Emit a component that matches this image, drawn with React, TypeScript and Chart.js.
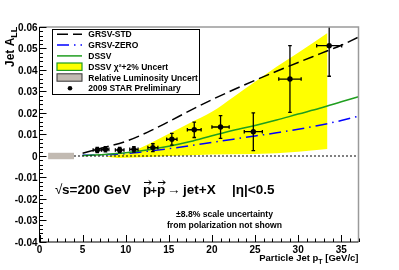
import React, { useEffect, useRef } from "react";
import { Chart, registerables } from "chart.js";

Chart.register(...registerables);

// ---- data ----
const jetPt = [6.7, 7.65, 9.3, 10.95, 13.15, 15.35, 17.95, 21.0, 24.8, 29.05, 33.6];
const jetALL = [0.0028, 0.0031, 0.0028, 0.0031, 0.0039, 0.0078, 0.0122, 0.0135, 0.0113, 0.0358, 0.0513];
const ptErr = [0.48, 0.4, 0.5, 0.48, 0.58, 0.6, 0.8, 1.0, 1.05, 1.3, 1.45];
const allErr = [0.0012, 0.0012, 0.0012, 0.0013, 0.0018, 0.0027, 0.0036, 0.0053, 0.0088, 0.0155, 0.0142];

const theoryPt = [5, 7.5, 10, 12.5, 15, 17.5, 20, 22.5, 25, 27.5, 30, 32.5, 35, 37];
const grsvStd = [0.0013, 0.004, 0.0068, 0.011, 0.016, 0.0212, 0.0262, 0.0308, 0.0352, 0.0394, 0.0435, 0.0475, 0.0515, 0.0553];
const grsvZero = [0.0003, 0.0006, 0.0011, 0.0022, 0.0034, 0.0048, 0.0063, 0.0078, 0.0093, 0.0108, 0.0124, 0.0143, 0.0165, 0.0185];
const dssv = [0.0002, 0.0007, 0.0015, 0.0028, 0.0045, 0.0067, 0.0094, 0.012, 0.0142, 0.0167, 0.0195, 0.0222, 0.0252, 0.0276];

const bandPt = [7.8, 9, 10, 11, 12.5, 15, 17.5, 20, 22.5, 25, 27.5, 30, 33.4];
const bandUpper = [-0.0002, 0.0006, 0.001, 0.0025, 0.0052, 0.0103, 0.0155, 0.0206, 0.0275, 0.0345, 0.0415, 0.048, 0.0572];
const bandLower = [-0.0004, -0.0009, -0.0008, -0.0007, -0.0005, 0.0, 0.0004, 0.0007, 0.0008, 0.0009, 0.0013, 0.002, 0.0033];

const lumiPt = [1, 4];
const lumiUncert = 0.0015;

const xTicks = [0, 5, 10, 15, 20, 25, 30, 35];
const xTickLabels = ["0", "5", "10", "15", "20", "25", "30", "35"];
const yTicks = [-0.04, -0.03, -0.02, -0.01, 0, 0.01, 0.02, 0.03, 0.04, 0.05, 0.06];
const yTickLabels = ["-0.04", "-0.03", "-0.02", "-0.01", "0", "0.01", "0.02", "0.03", "0.04", "0.05", "0.06"];

const legendLabels = [
  "GRSV-STD",
  "GRSV-ZERO",
  "DSSV",
  "DSSV \u03C7\u00B2+2% Uncert",
  "Relative Luminosity Uncert",
  "2009 STAR Preliminary",
];

const FONT = "'Liberation Sans', Arial, Helvetica, sans-serif";
const GREEN = "#1f9e1f";
const BLUE = "#0000ff";
const YELLOW = "#ffff00";
const LUMI = "#c2bab2";
const STD_DASH = [11, 5];
const ZERO_DASH = [12, 5, 1.5, 5];

const rootPlugin = {
  id: "rootStyle",
  beforeDraw(chart: any) {
    const ctx = chart.ctx;
    ctx.save();
    ctx.fillStyle = "#ffffff";
    ctx.fillRect(0, 0, chart.width, chart.height);
    ctx.restore();
  },
  afterDatasetsDraw(chart: any) {
    const ctx: CanvasRenderingContext2D = chart.ctx;
    const xs = chart.scales.x;
    const ys = chart.scales.y;
    const ca = chart.chartArea;
    const X = (v: number) => xs.getPixelForValue(v);
    const Y = (v: number) => ys.getPixelForValue(v);

    ctx.save();
    // zero dotted line
    ctx.strokeStyle = "#000";
    ctx.lineWidth = 1;
    ctx.setLineDash([2, 2]);
    ctx.beginPath();
    ctx.moveTo(X(lumiPt[1]), Y(0));
    ctx.lineTo(ca.right, Y(0));
    ctx.stroke();
    ctx.setLineDash([]);

    // luminosity band
    ctx.fillStyle = LUMI;
    ctx.fillRect(X(lumiPt[0]), Y(lumiUncert), X(lumiPt[1]) - X(lumiPt[0]), Y(-lumiUncert) - Y(lumiUncert));

    // error bars
    ctx.save();
    ctx.beginPath();
    ctx.rect(ca.left, ca.top, ca.right - ca.left, ca.bottom - ca.top);
    ctx.clip();
    ctx.strokeStyle = "#000";
    ctx.lineWidth = 1.3;
    for (let i = 0; i < jetPt.length; i++) {
      const px = X(jetPt[i]);
      const py = Y(jetALL[i]);
      const x0 = X(jetPt[i] - ptErr[i]);
      const x1 = X(jetPt[i] + ptErr[i]);
      const y0 = Y(jetALL[i] + allErr[i]);
      const y1 = Y(jetALL[i] - allErr[i]);
      ctx.beginPath();
      ctx.moveTo(px, y0);
      ctx.lineTo(px, y1);
      ctx.moveTo(x0, py);
      ctx.lineTo(x1, py);
      ctx.moveTo(px - 1.8, y0);
      ctx.lineTo(px + 1.8, y0);
      ctx.moveTo(px - 1.8, y1);
      ctx.lineTo(px + 1.8, y1);
      ctx.moveTo(x0, py - 1.8);
      ctx.lineTo(x0, py + 1.8);
      ctx.moveTo(x1, py - 1.8);
      ctx.lineTo(x1, py + 1.8);
      ctx.stroke();
    }
    ctx.restore();

    // frame
    ctx.strokeStyle = "#9a9a9a";
    ctx.lineWidth = 1.5;
    ctx.beginPath();
    ctx.moveTo(ca.left, ca.top);
    ctx.lineTo(ca.right, ca.top);
    ctx.lineTo(ca.right, ca.bottom);
    ctx.stroke();
    ctx.strokeStyle = "#000";
    ctx.lineWidth = 1;
    ctx.beginPath();
    ctx.moveTo(ca.left, ca.top);
    ctx.lineTo(ca.left, ca.bottom);
    ctx.lineTo(ca.right, ca.bottom);
    ctx.stroke();

    // ticks
    ctx.beginPath();
    for (let v = -0.04; v <= 0.0601; v += 0.002) {
      const yy = Math.round(Y(v)) + 0.5;
      const major = Math.abs(v * 100 - Math.round(v * 100)) < 1e-6;
      ctx.moveTo(ca.left, yy);
      ctx.lineTo(ca.left + (major ? 7 : 3.5), yy);
    }
    for (let v = 0; v <= 37; v += 1) {
      const xx = Math.round(X(v)) + 0.5;
      const major = v % 5 === 0;
      ctx.moveTo(xx, ca.bottom);
      ctx.lineTo(xx, ca.bottom - (major ? 7 : 3.5));
    }
    ctx.stroke();

    // tick labels
    ctx.fillStyle = "#000";
    ctx.font = `bold 10px ${FONT}`;
    ctx.textAlign = "right";
    ctx.textBaseline = "alphabetic";
    yTicks.forEach((v, i) => ctx.fillText(yTickLabels[i], ca.left - 2, Y(v) + 3.6));
    ctx.textAlign = "center";
    xTicks.forEach((v, i) => ctx.fillText(xTickLabels[i], X(v), 252.5));

    // x title
    ctx.textAlign = "left";
    const t1 = "Particle Jet p";
    const t3 = " [GeV/c]";
    ctx.font = `bold 7px ${FONT}`;
    const wT = ctx.measureText("T").width;
    ctx.font = `bold 9.5px ${FONT}`;
    const w1 = ctx.measureText(t1).width;
    const w3 = ctx.measureText(t3).width;
    const xEnd = ca.right;
    const xStart = xEnd - (w1 + wT + w3);
    ctx.fillText(t1, xStart, 260.5);
    ctx.fillText(t3, xStart + w1 + wT, 260.5);
    ctx.font = `bold 7px ${FONT}`;
    ctx.fillText("T", xStart + w1, 264);

    // y title
    ctx.save();
    ctx.translate(13.5, 67);
    ctx.rotate(-Math.PI / 2);
    ctx.font = `bold 12px ${FONT}`;
    ctx.textAlign = "left";
    ctx.fillText("Jet A", 0, 0);
    const wj = ctx.measureText("Jet A").width;
    ctx.font = `bold 9px ${FONT}`;
    ctx.fillText("LL", wj, 3);
    ctx.restore();

    // annotation
    ctx.textAlign = "left";
    const base = 194;
    ctx.font = `13.5px ${FONT}`;
    ctx.fillText("\u221A", 55, base);
    ctx.font = `bold 13.5px ${FONT}`;
    ctx.fillText("s=200 GeV", 62, base);
    const pX = [143, 157];
    ctx.fillText("p", pX[0], base);
    ctx.font = `bold 11px ${FONT}`;
    ctx.fillText("+", 150.5, base - 0.5);
    ctx.font = `bold 13.5px ${FONT}`;
    ctx.fillText("p", pX[1], base);
    const wp = ctx.measureText("p").width;
    // arrows over p
    ctx.lineWidth = 1;
    ctx.strokeStyle = "#000";
    pX.forEach((sx) => {
      const ay = base - 11.5;
      ctx.beginPath();
      ctx.moveTo(sx + 1, ay);
      ctx.lineTo(sx + wp, ay);
      ctx.moveTo(sx + wp - 2.5, ay - 2);
      ctx.lineTo(sx + wp, ay);
      ctx.lineTo(sx + wp - 2.5, ay + 2);
      ctx.stroke();
    });
    ctx.font = `13.5px ${FONT}`;
    ctx.fillText("\u2192", 167, base);
    ctx.font = `bold 13.5px ${FONT}`;
    ctx.fillText("jet+X", 183, base);
    ctx.fillText("|\u03B7|<0.5", 232, base);

    ctx.font = `bold 8.6px ${FONT}`;
    ctx.textAlign = "center";
    ctx.fillText("\u00B18.8% scale uncertainty", 224.5, 216.5);
    ctx.fillText("from polarization not shown", 224.5, 228);

    // legend
    const lx0 = 52.5, ly0 = 29.5, lx1 = 199.5, ly1 = 94.5;
    ctx.fillStyle = "#fff";
    ctx.fillRect(lx0, ly0, lx1 - lx0, ly1 - ly0);
    ctx.strokeStyle = "#000";
    ctx.lineWidth = 1;
    ctx.strokeRect(lx0, ly0, lx1 - lx0, ly1 - ly0);
    const rows = legendLabels.map((_, i) => 34.3 + i * 10.8);
    const sx0 = 57, sx1 = 82;
    ctx.lineWidth = 1.5;
    ctx.strokeStyle = "#000";
    ctx.setLineDash(STD_DASH);
    ctx.beginPath();
    ctx.moveTo(sx0, rows[0]);
    ctx.lineTo(sx1, rows[0]);
    ctx.stroke();
    ctx.strokeStyle = BLUE;
    ctx.setLineDash(ZERO_DASH);
    ctx.beginPath();
    ctx.moveTo(sx0, rows[1]);
    ctx.lineTo(sx1, rows[1]);
    ctx.stroke();
    ctx.setLineDash([]);
    ctx.strokeStyle = GREEN;
    ctx.beginPath();
    ctx.moveTo(sx0, rows[2]);
    ctx.lineTo(sx1, rows[2]);
    ctx.stroke();
    ctx.fillStyle = YELLOW;
    ctx.fillRect(sx0, rows[3] - 3.7, sx1 - sx0, 7.4);
    ctx.strokeStyle = GREEN;
    ctx.lineWidth = 1.2;
    ctx.strokeRect(sx0, rows[3] - 3.7, sx1 - sx0, 7.4);
    ctx.fillStyle = LUMI;
    ctx.fillRect(sx0, rows[4] - 3.7, sx1 - sx0, 7.4);
    ctx.strokeStyle = "#333";
    ctx.lineWidth = 1;
    ctx.strokeRect(sx0, rows[4] - 3.7, sx1 - sx0, 7.4);
    ctx.fillStyle = "#000";
    ctx.beginPath();
    ctx.arc(70, rows[5], 2.3, 0, Math.PI * 2);
    ctx.fill();
    ctx.font = `bold 8.5px ${FONT}`;
    ctx.textAlign = "left";
    legendLabels.forEach((t, i) => ctx.fillText(t, 88.3, rows[i] + 3.1));

    ctx.restore();
  },
};

export default function App() {
  const ref = useRef<HTMLCanvasElement | null>(null);
  useEffect(() => {
    const canvas = ref.current;
    if (!canvas) return;
    const pts = (xa: number[], ya: number[]) => xa.map((x, i) => ({ x, y: ya[i] }));
    // Chart.js draws dataset 0 on top, so the band comes last
    const chart = new Chart(canvas, {
      type: "line",
      data: {
        datasets: [
          {
            type: "scatter" as any,
            data: pts(jetPt, jetALL),
            backgroundColor: "#000",
            borderColor: "#000",
            pointRadius: 2.7,
            borderWidth: 0,
            showLine: false,
          },
          {
            data: pts(theoryPt, dssv),
            borderColor: GREEN,
            borderWidth: 1.5,
            pointRadius: 0,
            fill: false,
            cubicInterpolationMode: "monotone",
          },
          {
            data: pts(theoryPt, grsvZero),
            borderColor: BLUE,
            borderDash: ZERO_DASH,
            borderWidth: 1.5,
            pointRadius: 0,
            fill: false,
            cubicInterpolationMode: "monotone",
          },
          {
            data: pts(theoryPt, grsvStd),
            borderColor: "#000",
            borderDash: STD_DASH,
            borderWidth: 1.5,
            pointRadius: 0,
            fill: false,
            cubicInterpolationMode: "monotone",
          },
          {
            data: pts(bandPt, bandUpper),
            fill: "+1",
            backgroundColor: YELLOW,
            borderWidth: 0,
            borderColor: "rgba(0,0,0,0)",
            pointRadius: 0,
            cubicInterpolationMode: "monotone",
          },
          {
            data: pts(bandPt, bandLower),
            fill: false,
            borderWidth: 0,
            borderColor: "rgba(0,0,0,0)",
            pointRadius: 0,
          },
        ],
      },
      options: {
        animation: false,
        responsive: false,
        maintainAspectRatio: false,
        events: [],
        layout: { padding: { left: 39.5, right: 40.5, top: 27, bottom: 28 } },
        scales: {
          x: { type: "linear", min: 0, max: 37, display: false },
          y: { type: "linear", min: -0.04, max: 0.06, display: false },
        },
        plugins: { legend: { display: false }, tooltip: { enabled: false } },
      },
      plugins: [rootPlugin],
    } as any);
    return () => chart.destroy();
  }, []);
  return (
    <div style={{ position: "absolute", left: 0, top: 0, width: 399, height: 270 }}>
      <canvas ref={ref} width={399} height={270} style={{ display: "block", width: 399, height: 270 }} />
    </div>
  );
}
